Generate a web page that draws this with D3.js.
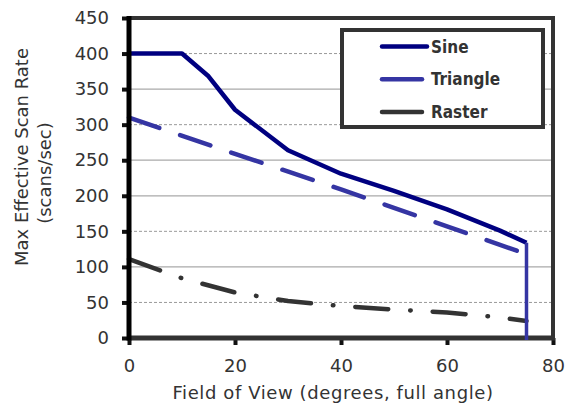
<!DOCTYPE html>
<html>
<head>
<meta charset="utf-8">
<script src="https://cdn.jsdelivr.net/npm/d3@7"></script>
<style>
  body { margin: 0; background: #fff; }
  svg { display: block; }
</style>
</head>
<body>
<svg id="chart"></svg>
<script>
// values
const fovTicks = [0, 20, 40, 60, 80];
const rateTicks = [0, 50, 100, 150, 200, 250, 300, 350, 400, 450];
const seriesNames = ['Sine', 'Triangle', 'Raster'];

const sineFov  = [0, 10, 15, 20, 30, 40, 50, 60, 70, 75];
const sineRate = [400, 400, 368, 321, 264, 231, 207, 181, 151, 134];

const triangleFov  = [0, 20, 40, 60, 75];
const triangleRate = [310, 259, 209, 157, 118];

const rasterFov  = [0, 10, 20, 30, 40, 50, 60, 70, 75];
const rasterRate = [111, 84, 64, 52, 45, 40, 36, 29, 24];

// drop line at the end of the scan range
const cutoffFov  = [75, 75];
const cutoffRate = [134, 0];

const xTitle = 'Field of View (degrees, full angle)';
const yTitle = ['Max Effective Scan Rate', '(scans/sec)'];

class ScanRateChart {
    constructor(_config) {
        this.config = {
            parentElement: _config.parentElement,
            containerWidth: _config.containerWidth || 565,
            containerHeight: _config.containerHeight || 405,
            margin: _config.margin || {top: 18, right: 12, bottom: 67, left: 129}
        }
        this.initVis();
    }

    initVis() {
        let vis = this;

        vis.width = vis.config.containerWidth - vis.config.margin.left - vis.config.margin.right;
        vis.height = vis.config.containerHeight - vis.config.margin.top - vis.config.margin.bottom;

        vis.svg = d3.select(vis.config.parentElement)
            .attr('width', vis.config.containerWidth)
            .attr('height', vis.config.containerHeight);

        vis.svg.append('rect')
            .attr('width', vis.config.containerWidth)
            .attr('height', vis.config.containerHeight)
            .attr('fill', '#fff');

        vis.chart = vis.svg.append('g')
            .attr('transform', `translate(${vis.config.margin.left}, ${vis.config.margin.top})`);

        vis.xScale = d3.scaleLinear().domain([0, 80]).range([0, vis.width]);
        vis.yScale = d3.scaleLinear().domain([0, 450]).range([vis.height, 0]);

        vis.line = d3.line()
            .x(d => vis.xScale(d[0]))
            .y(d => vis.yScale(d[1]));

        vis.updateVis();
    }

    updateVis() {
        let vis = this;

        const zip = (xs, ys) => xs.map((x, i) => [x, ys[i]]);
        vis.series = [
            {name: 'Sine', values: zip(sineFov, sineRate), color: '#000080', dash: null},
            {name: 'Triangle', values: zip(triangleFov, triangleRate), color: '#3535a3', dash: '32,22'},
            {name: 'Raster', values: zip(rasterFov, rasterRate), color: '#333333', dash: '33,22,0.5,22'}
        ];
        vis.cutoff = zip(cutoffFov, cutoffRate);

        vis.renderVis();
    }

    renderVis() {
        let vis = this;
        const dashedGrid = [400, 300, 150, 50];

        // grid lines
        vis.chart.append('g').selectAll('line')
            .data(rateTicks.filter(d => d > 0 && d < 450))
            .join('line')
            .attr('x1', 0).attr('x2', vis.width)
            .attr('y1', d => vis.yScale(d)).attr('y2', d => vis.yScale(d))
            .attr('stroke', d => dashedGrid.includes(d) ? '#9a9a9a' : '#aaaaaa')
            .attr('stroke-width', d => dashedGrid.includes(d) ? 1 : 1.3)
            .attr('stroke-dasharray', d => dashedGrid.includes(d) ? '3,2' : null);

        // series
        vis.chart.append('g').selectAll('path')
            .data(vis.series)
            .join('path')
            .attr('d', d => vis.line(d.values))
            .attr('fill', 'none')
            .attr('stroke', d => d.color)
            .attr('stroke-width', 4.5)
            .attr('stroke-linecap', d => d.dash ? 'round' : 'butt')
            .attr('stroke-linejoin', 'round')
            .attr('stroke-dasharray', d => d.dash);

        // axes
        vis.xAxis = d3.axisBottom(vis.xScale)
            .tickValues(fovTicks)
            .tickSize(7)
            .tickPadding(14);
        vis.yAxis = d3.axisLeft(vis.yScale)
            .tickValues(rateTicks)
            .tickSize(7)
            .tickPadding(13);

        vis.xAxisGroup = vis.chart.append('g')
            .attr('transform', `translate(0, ${vis.height})`)
            .call(vis.xAxis);
        vis.yAxisGroup = vis.chart.append('g')
            .call(vis.yAxis);

        [vis.xAxisGroup, vis.yAxisGroup].forEach(g => {
            g.select('.domain').remove();
            g.selectAll('.tick line').attr('stroke', '#111').attr('stroke-width', 4);
            g.selectAll('.tick text')
                .attr('fill', '#333')
                .style('font-family', 'DejaVu Sans')
                .style('font-size', '18px');
        });

        // frame
        const frame = vis.chart.append('g').attr('fill', 'none');
        frame.append('line')
            .attr('x1', 0).attr('x2', vis.width + 2)
            .attr('y1', 0).attr('y2', 0)
            .attr('stroke', '#333').attr('stroke-width', 4);
        frame.append('line')
            .attr('x1', vis.width).attr('x2', vis.width)
            .attr('y1', -2).attr('y2', vis.height + 2)
            .attr('stroke', '#333').attr('stroke-width', 4);
        frame.append('line')
            .attr('x1', 0).attr('x2', vis.width + 2)
            .attr('y1', vis.height).attr('y2', vis.height)
            .attr('stroke', '#333').attr('stroke-width', 5);
        frame.append('line')
            .attr('x1', 0).attr('x2', 0)
            .attr('y1', -2).attr('y2', vis.height + 2.5)
            .attr('stroke', '#000').attr('stroke-width', 5);

        // drop line
        vis.chart.append('path')
            .attr('d', vis.line(vis.cutoff) + 'v2')
            .attr('fill', 'none')
            .attr('stroke', '#3535a3')
            .attr('stroke-width', 3.5);

        // legend
        const legend = vis.svg.append('g');
        legend.append('rect')
            .attr('x', 342).attr('y', 30)
            .attr('width', 201).attr('height', 97)
            .attr('fill', '#fff')
            .attr('stroke', '#333')
            .attr('stroke-width', 4);
        const item = legend.selectAll('g.item')
            .data(vis.series)
            .join('g')
            .attr('class', 'item')
            .attr('transform', (d, i) => `translate(382, ${46.5 + i * 32.7})`);
        item.append('line')
            .attr('x1', 0).attr('x2', (d, i) => i === 0 ? 45 : 40)
            .attr('stroke', d => d.color)
            .attr('stroke-width', 4.5)
            .attr('stroke-linecap', 'round');
        item.append('text')
            .attr('x', 49)
            .attr('dy', '0.36em')
            .attr('fill', '#333')
            .style('font-family', 'DejaVu Sans Condensed, DejaVu Sans')
            .style('font-weight', 'bold')
            .style('font-size', '17px')
            .text((d, i) => seriesNames[i]);

        // titles
        vis.svg.append('text')
            .attr('x', 333)
            .attr('y', 399)
            .attr('text-anchor', 'middle')
            .attr('fill', '#333')
            .style('font-family', 'DejaVu Sans')
            .style('font-size', '18px')
            .style('letter-spacing', '0.6px')
            .text(xTitle);

        vis.svg.selectAll('text.ytitle')
            .data(yTitle)
            .join('text')
            .attr('class', 'ytitle')
            .attr('transform', (d, i) => i === 0 ? 'translate(28, 157) rotate(-90)' : 'translate(51, 173) rotate(-90)')
            .attr('text-anchor', 'middle')
            .attr('fill', '#333')
            .style('font-family', 'DejaVu Sans')
            .style('font-size', '18px')
            .text(d => d);
    }
}

new ScanRateChart({parentElement: '#chart'});
</script>
</body>
</html>
